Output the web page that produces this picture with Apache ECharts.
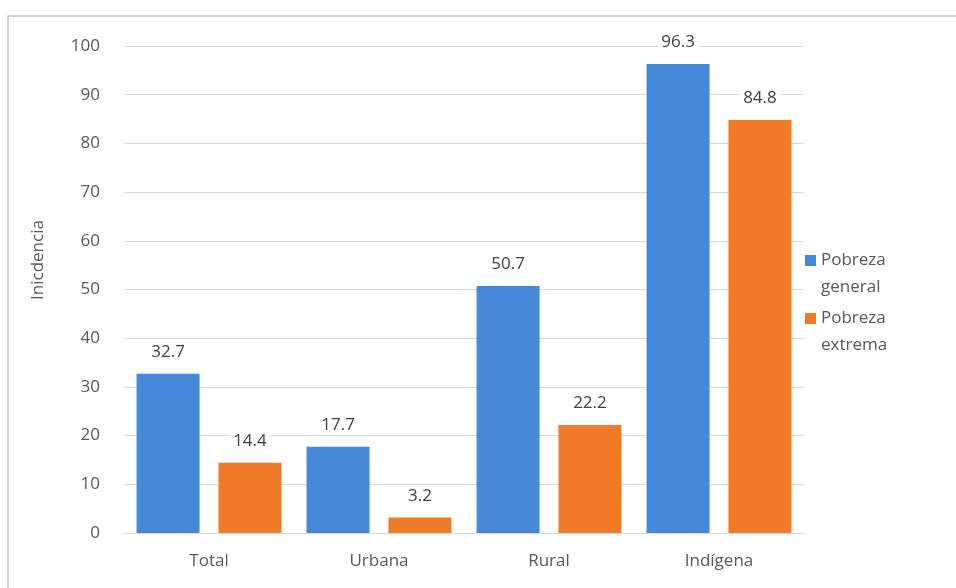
<!DOCTYPE html>
<html>
<head>
<meta charset="utf-8">
<script src="https://cdn.jsdelivr.net/npm/echarts@6/dist/echarts.min.js"></script>
<style>html,body{margin:0;padding:0;background:#fff;}#c{width:956px;height:588px;}</style>
</head>
<body>
<div id="c"></div>
<script>
const categories = ['Total', 'Urbana', 'Rural', 'Indígena'];
const pobrezaGeneral = [32.7, 17.7, 50.7, 96.3];
const pobrezaExtrema = [14.4, 3.2, 22.2, 84.8];
const seriesNames = ['Pobreza\ngeneral', 'Pobreza\nextrema'];
const yTicks = { min: 0, max: 100, interval: 10 };
const yName = 'Inicdencia';

const FONT = '"Open Sans", Lato, sans-serif';
const TXT = '#595959';
const chart = echarts.init(document.getElementById('c'), null, { renderer: 'canvas' });
const labelCfg = {
  show: true, position: 'top', distance: 12,
  color: '#404040', fontSize: 17, fontFamily: FONT,
  backgroundColor: '#fff', padding: [1, 3],
  formatter: p => p.value.toFixed(1)
};
chart.setOption({
  animation: false,
  backgroundColor: '#fff',
  grid: { left: 124, right: 152, top: 46, bottom: 55 },
  graphic: [
    { type: 'rect', shape: { x: 8, y: 16, width: 960, height: 600 },
      style: { fill: 'none', stroke: '#c4c4c4', lineWidth: 1.5 }, silent: true, z: -1 },
    { type: 'text', x: 38, y: 260, rotation: Math.PI / 2,
      style: { text: yName, fill: TXT, font: '17px ' + FONT, align: 'center', verticalAlign: 'middle' } }
  ],
  legend: {
    orient: 'vertical', left: 800, top: 242, itemWidth: 11, itemHeight: 54, itemGap: 4,
    icon: 'path://M0,0L0.01,0M0,8H11V19H0ZM0,54L0.01,54',
    textStyle: { color: TXT, fontSize: 17, fontFamily: FONT, lineHeight: 27 },
    data: seriesNames
  },
  xAxis: {
    type: 'category', data: categories,
    axisLine: { lineStyle: { color: '#d9d9d9' } },
    axisTick: { show: false },
    axisLabel: { color: TXT, fontSize: 17, fontFamily: FONT, margin: 20 }
  },
  yAxis: {
    type: 'value', min: yTicks.min, max: yTicks.max, interval: yTicks.interval,
    axisLine: { show: false }, axisTick: { show: false },
    axisLabel: { color: TXT, fontSize: 17, fontFamily: FONT, margin: 24 },
    splitLine: { lineStyle: { color: '#d9d9d9', width: 1 } }
  },
  series: [
    { name: seriesNames[0], type: 'bar', data: pobrezaGeneral, barWidth: 63, barGap: '30%',
      itemStyle: { color: '#4589d8' }, label: labelCfg },
    { name: seriesNames[1], type: 'bar', data: pobrezaExtrema, barWidth: 63, barGap: '30%',
      itemStyle: { color: '#f07a25' }, label: labelCfg }
  ]
});
</script>
</body>
</html>
